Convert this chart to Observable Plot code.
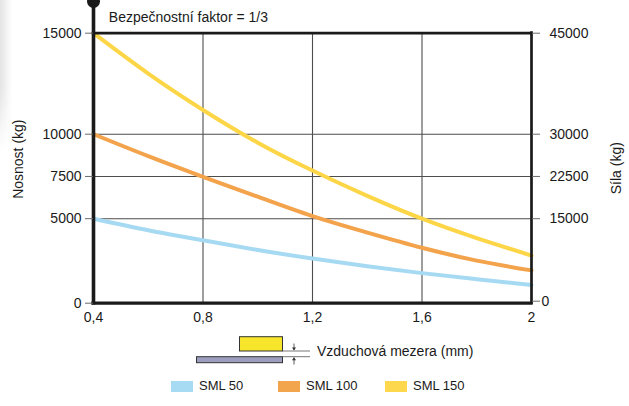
<!DOCTYPE html>
<html>
<head>
<meta charset="utf-8">
<script src="https://cdn.jsdelivr.net/npm/d3@7"></script>
<script src="https://cdn.jsdelivr.net/npm/@observablehq/plot@0.6"></script>
<style>
  html, body { margin: 0; padding: 0; background: #ffffff; }
  body { width: 629px; height: 406px; overflow: hidden; font-family: "Liberation Sans", Arial, Helvetica, sans-serif; color: #1a1a1a; position: relative; }
  #edge { position: absolute; left: 0; top: 0; width: 12px; height: 150px;
          background: linear-gradient(to right, rgba(225,225,225,0.9), rgba(255,255,255,0));
          -webkit-mask-image: linear-gradient(to bottom, #000 60%, transparent); mask-image: linear-gradient(to bottom, #000 60%, transparent); }
  #chart { position: relative; }
  #chart svg { display: block; }
  #below { position: relative; width: 629px; height: 71px; }
  .lg-sw { position: absolute; width: 22px; height: 11px; top: 46px; }
  .lg-tx { position: absolute; top: 43px; font-size: 13px; line-height: 16px; white-space: nowrap; }
  #gaptext { position: absolute; left: 317px; top: 8px; font-size: 14px; line-height: 16px; white-space: nowrap; }
</style>
</head>
<body>
<div id="edge"></div>
<div id="chart"></div>
<div id="below">
  <svg id="diagram" width="629" height="71" style="position:absolute;left:0;top:0"></svg>
  <div id="gaptext">Vzduchová mezera (mm)</div>
  <div id="legend"></div>
</div>
<script>
// ---- data ----
const gap = [0.4, 0.6, 0.8, 1.0, 1.2, 1.4, 1.6, 1.8, 2.0];
const sml50  = [5000, 4320, 3720, 3150, 2640, 2190, 1780, 1420, 1070];
const sml100 = [10000, 8700, 7480, 6300, 5150, 4180, 3280, 2520, 1940];
const sml150 = [15000, 13000, 11200, 9500, 7850, 6350, 5000, 3850, 2820];
const seriesNames = ["SML 50", "SML 100", "SML 150"];
const seriesColors = ["#a6daf2", "#f3a34b", "#fcd647"];
const legendColors = ["#a6dbf3", "#f2a54d", "#fdd84c"];
const xTicks = [0.4, 0.8, 1.2, 1.6, 2];
const xTickLabels = ["0,4", "0,8", "1,2", "1,6", "2"];
const leftTicks = [0, 5000, 7500, 10000, 15000];
const rightTickLabels = ["0", "15000", "22500", "30000", "45000"];
const gridY = [5000, 7500, 10000];
const gridX = [0.8, 1.2, 1.6];
const title = "Bezpečnostní faktor = 1/3";
const leftLabel = "Nosnost (kg)";
const rightLabel = "Síla (kg)";

const rows = [];
[sml50, sml100, sml150].forEach((vals, s) => {
  vals.forEach((v, i) => rows.push({series: seriesNames[s], gap: gap[i], value: v}));
});

const xMin = xTicks[0], xMax = xTicks[xTicks.length - 1];
const yMin = leftTicks[0], yMax = leftTicks[leftTicks.length - 1];
const dark = "#1a1a1a";
const gridColor = "#4d4d4d";
const tickColor = "#6a6a6a";

// the original axis is stretched above 10000 (10000..15000 is drawn larger than 0..10000 halves)
const breakAt = 10000, upperStretch = 101 / 84.5;
const yTransform = d => d <= breakAt ? d : breakAt + (d - breakAt) * upperStretch;

const chart = Plot.plot({
  width: 629,
  height: 335,
  marginLeft: 93,
  marginRight: 98,
  marginTop: 32.7,
  marginBottom: 32.3,
  x: {domain: [xMin, xMax]},
  y: {transform: yTransform, domain: [yTransform(yMin), yTransform(yMax)]},
  color: {domain: seriesNames, range: seriesColors},
  style: {fontFamily: "'Liberation Sans', Arial, Helvetica, sans-serif", fontSize: "14px", background: "transparent", color: dark},
  marks: [
    Plot.ruleY(gridY, {x1: xMin, x2: xMax, stroke: gridColor, strokeWidth: 1.1}),
    Plot.ruleX(gridX, {y1: yMin, y2: yMax, stroke: gridColor, strokeWidth: 1.1}),
    Plot.line(rows, {x: "gap", y: "value", z: "series", stroke: "series", strokeWidth: 4, curve: "natural"}),
    // frame
    Plot.ruleY([yMax], {x1: xMin, x2: xMax, stroke: dark, strokeWidth: 2.7, strokeLinecap: "square"}),
    Plot.ruleX([xMax], {y1: yMin, y2: yMax, stroke: dark, strokeWidth: 2.7, strokeLinecap: "square"}),
    Plot.ruleY([yMin], {x1: xMin, x2: xMax, stroke: dark, strokeWidth: 3.3, strokeLinecap: "square"}),
    Plot.ruleX([xMin], {y1: yMax, y2: yMin, insetTop: -31.7, stroke: dark, strokeWidth: 3.6, strokeLinecap: "square"}),
    Plot.dot([{x: xMin, y: yMax}], {x: "x", y: "y", dy: -31.7, r: 6.5, fill: dark, stroke: null}),
    // axes
    Plot.axisY(leftTicks, {anchor: "left", tickSize: 8, tickPadding: 4, stroke: tickColor, tickFormat: d => String(d), label: null, fontSize: 14}),
    Plot.axisY(leftTicks.slice(1), {anchor: "right", tickSize: 8, tickPadding: 10, stroke: tickColor, tickFormat: d => rightTickLabels[leftTicks.indexOf(d)], label: null, fontSize: 14}),
    Plot.axisY(leftTicks.slice(0, 1), {anchor: "right", tickSize: 8, tickPadding: 2, dy: -2, stroke: tickColor, tickFormat: d => rightTickLabels[leftTicks.indexOf(d)], label: null, fontSize: 14}),
    Plot.axisX(xTicks, {anchor: "bottom", tickSize: 0, tickPadding: 9, tickFormat: d => xTickLabels[xTicks.indexOf(d)], label: null, fontSize: 14}),
    // texts
    Plot.text([title], {frameAnchor: "top-left", dx: 15.3, dy: -15.7, textAnchor: "start", lineAnchor: "middle", fontSize: 14, fill: dark}),
    Plot.text([leftLabel], {frameAnchor: "left", textAnchor: "middle", lineAnchor: "middle", rotate: -90, dx: -75, dy: -9, fontSize: 14, fill: dark}),
    Plot.text([rightLabel], {frameAnchor: "right", textAnchor: "middle", lineAnchor: "middle", rotate: -90, dx: 85, dy: 0, fontSize: 14, fill: dark})
  ]
});
document.getElementById("chart").appendChild(chart);

// air-gap diagram (below the plot), y offsets relative to 335
const ns = "http://www.w3.org/2000/svg";
const dg = document.getElementById("diagram");
function el(tag, attrs) {
  const e = document.createElementNS(ns, tag);
  for (const k in attrs) e.setAttribute(k, attrs[k]);
  dg.appendChild(e);
  return e;
}
el("rect", {x: 239.5, y: 1.7, width: 43, height: 14.3, fill: "#f6e52b", stroke: "#333", "stroke-width": 1});
el("rect", {x: 196.5, y: 21.7, width: 86, height: 6, fill: "#9d9ebf", stroke: "#333", "stroke-width": 1});
el("line", {x1: 282.5, x2: 310, y1: 16, y2: 16, stroke: "#666", "stroke-width": 0.9});
el("line", {x1: 282.5, x2: 310, y1: 21.7, y2: 21.7, stroke: "#666", "stroke-width": 0.9});
el("line", {x1: 294, x2: 294, y1: 8.5, y2: 15, stroke: "#333", "stroke-width": 0.8});
el("path", {d: "M292,12.5 L294,15.5 L296,12.5 Z", fill: "#333"});
el("line", {x1: 294, x2: 294, y1: 22.7, y2: 29.5, stroke: "#333", "stroke-width": 0.8});
el("path", {d: "M292,25.2 L294,22.2 L296,25.2 Z", fill: "#333"});

// legend
const lg = document.getElementById("legend");
const swX = [171, 278, 385];
seriesNames.forEach((name, i) => {
  const sw = document.createElement("div");
  sw.className = "lg-sw";
  sw.style.left = swX[i] + "px";
  sw.style.background = legendColors[i];
  lg.appendChild(sw);
  const tx = document.createElement("div");
  tx.className = "lg-tx";
  tx.style.left = (swX[i] + 28) + "px";
  tx.textContent = name;
  lg.appendChild(tx);
});
</script>
</body>
</html>
